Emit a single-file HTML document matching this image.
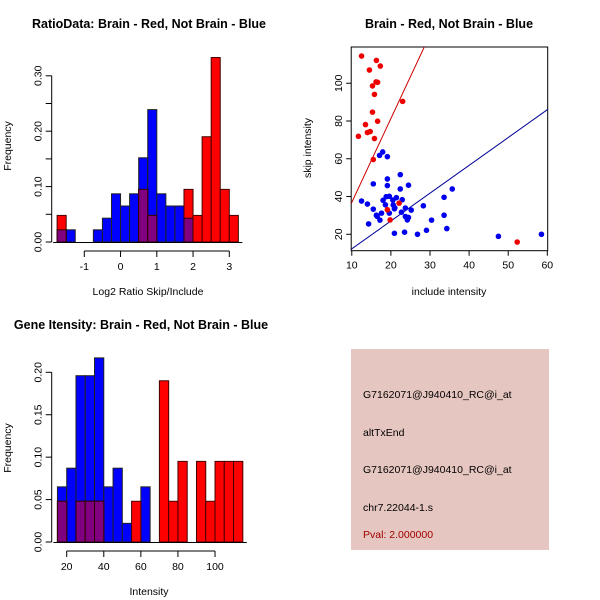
<!DOCTYPE html>
<html><head><meta charset="utf-8"><style>body{margin:0;background:#fff}svg{display:block;font-family:"Liberation Sans",sans-serif}</style></head>
<body>
<svg id="c" width="600" height="600" viewBox="0 0 600 600">
<rect x="0" y="0" width="600" height="600" fill="#fff"/>
<g>
<text x="149" y="28" font-size="12.5" font-weight="bold" text-anchor="middle">RatioData: Brain - Red, Not Brain - Blue</text>
<text x="148" y="295" font-size="10.5" text-anchor="middle">Log2 Ratio Skip/Include</text>
<text transform="translate(11,146) rotate(-90)" font-size="10.5" text-anchor="middle">Frequency</text>
<g id="h1"></g></g>
<g>
<text x="449" y="28" font-size="12.5" font-weight="bold" text-anchor="middle">Brain - Red, Not Brain - Blue</text>
<text x="449" y="295" font-size="10.5" text-anchor="middle">include intensity</text>
<text transform="translate(311,148) rotate(-90)" font-size="10.5" text-anchor="middle">skip intensity</text>
<g id="sc"></g></g>
<g>
<text x="141" y="329" font-size="12.5" font-weight="bold" text-anchor="middle">Gene Itensity: Brain - Red, Not Brain - Blue</text>
<text x="149" y="595" font-size="10.5" text-anchor="middle">Intensity</text>
<text transform="translate(11,448) rotate(-90)" font-size="10.5" text-anchor="middle">Frequency</text>
<g id="h2"></g></g>
<g>
<rect x="351" y="349" width="198" height="201" fill="#e6c6c0"/>
<text x="363" y="398" font-size="10.5">G7162071@J940410_RC@i_at</text>
<text x="363" y="436" font-size="10.5">altTxEnd</text>
<text x="363" y="473" font-size="10.5">G7162071@J940410_RC@i_at</text>
<text x="363" y="511" font-size="10.5">chr7.22044-1.s</text>
<text x="363" y="538" font-size="10.5" fill="#a00000">Pval: 2.000000</text>
</g>
</svg>
<script>
// Histogram 1 data
const h1Start=-1.75, h1Width=0.25;
const h1Blue=[0.022,0.022,0,0,0.022,0.043,0.087,0.065,0.087,0.152,0.239,0.087,0.065,0.065,0.043,0,0,0,0,0];
const h1Red=[0.048,0,0,0,0,0,0,0,0,0.095,0.048,0,0,0,0.095,0.048,0.19,0.333,0.095,0.048];
const h1XTicks=[-1,0,1,2,3];
const h1YTicks=[0,0.05,0.1,0.15,0.2,0.25,0.3];
const h1YLabels=["0.00","","0.10","","0.20","","0.30"];
// Histogram 2 data
const h2Start=15, h2Width=5;
const h2Blue=[0.065,0.087,0.196,0.196,0.217,0.065,0.087,0.022,0,0.065,0,0,0,0,0,0,0,0,0,0];
const h2Red=[0.048,0,0.048,0.048,0.048,0,0,0,0.048,0,0,0.19,0.048,0.095,0,0.095,0.048,0.095,0.095,0.095];
const h2XTicks=[20,40,60,80,100];
const h2YTicks=[0,0.05,0.1,0.15,0.2];
const h2YLabels=["0.00","0.05","0.10","0.15","0.20"];
// Scatter data
const redX=[12.5,16.3,17.3,14.5,16.2,16.6,15.3,15.8,23.0,15.3,13.5,16.6,14.7,14.0,11.7,15.8,15.5,22.1,19.1,19.8,52.3];
const redY=[114.4,112.1,109.1,107,100.7,100.5,98.6,94.1,90.4,84.7,78.1,79.9,74.4,73.9,71.9,70.7,59.6,36.5,33,27.6,15.9];
const blueX=[12.5,14.0,14.3,15.5,15.5,16.3,17.2,17.6,17.1,17.9,19.1,19.1,19.1,18.8,19.6,18.6,19.6,20.5,20.6,20.9,21.4,20.9,22.4,22.4,22.9,22.7,23.7,23.7,24.2,24.5,24.5,25.2,23.5,26.8,28.3,29.1,30.4,33.6,33.6,34.3,35.7,47.5,58.5,16.5,18.0,21.0];
const blueY=[37.6,36,25.5,46.7,33.3,30.1,27.5,31.2,61.8,63.6,61.1,49.3,45.8,39.9,40.1,35.6,31.2,38.1,35.5,33.5,39.4,20.5,51.6,44,38.3,31.7,33.9,29.4,27.6,28.9,46,32.8,21.1,20,35.1,22.1,27.5,39.6,30.1,23,44,18.9,20,29.5,38,34];
const lineIntercepts=[-7.5,-2.45];
const lineSlopes=[4.44,1.474];
const lineColors=["#cc0000","#000099"];
const scXTicks=[10,20,30,40,50,60];
const scYTicks=[20,40,60,80,100];

const NS="http://www.w3.org/2000/svg";
function mk(p,t,a){const e=document.createElementNS(NS,t);for(const k in a)e.setAttribute(k,a[k]);p.appendChild(e);return e;}

function hist(g,start,w,blue,red,xt,yt,yl,sx,sy,axisY,axisX,tag){
  for(let i=0;i<blue.length;i++){
    const x0=sx(start+i*w),x1=sx(start+(i+1)*w);
    if(blue[i]>0){const r=mk(g,'rect',{x:x0,y:sy(blue[i]),width:x1-x0,height:sy(0)-sy(blue[i]),fill:'#0000ff',stroke:'#222','stroke-width':1});
      
      }
  }
  for(let i=0;i<red.length;i++){
    const x0=sx(start+i*w),x1=sx(start+(i+1)*w);
    if(red[i]>0){const r=mk(g,'rect',{x:x0,y:sy(red[i]),width:x1-x0,height:sy(0)-sy(red[i]),fill:'#ff0000',stroke:'#400','stroke-width':1});
      
      }
    const m=Math.min(red[i],blue[i]);
    if(m>0){const r=mk(g,'rect',{x:x0,y:sy(m),width:x1-x0,height:sy(0)-sy(m),fill:'#800080',stroke:'#300','stroke-width':1});
      
      }
  }
  const x0=sx(start),x1=sx(start+blue.length*w);
  const b=mk(g,'line',{x1:x0-4,x2:x1+4,y1:sy(0)+0.5,y2:sy(0)+0.5,stroke:'#000'});
  
  
  const xa=mk(g,'line',{x1:sx(xt[0]),x2:sx(xt[xt.length-1]),y1:axisY,y2:axisY,stroke:'#000'});
  
  
  xt.forEach(v=>{mk(g,'line',{x1:sx(v),x2:sx(v),y1:axisY,y2:axisY+6,stroke:'#000'});
    const t=mk(g,'text',{x:sx(v),y:axisY+19,'font-size':10.5,'text-anchor':'middle'});t.textContent=v;
    
    });
  const ya=mk(g,'line',{x1:axisX,x2:axisX,y1:sy(yt[0]),y2:sy(yt[yt.length-1]),stroke:'#000'});
  
  
  yt.forEach((v,i)=>{mk(g,'line',{x1:axisX-6,x2:axisX,y1:sy(v),y2:sy(v),stroke:'#000'});
    if(yl[i]){const t=mk(g,'text',{transform:`translate(${axisX-10},${sy(v)}) rotate(-90)`,'font-size':10.5,'text-anchor':'middle'});t.textContent=yl[i];
    
    }});
}
hist(document.getElementById('h1'),h1Start,h1Width,h1Blue,h1Red,h1XTicks,h1YTicks,h1YLabels,
  v=>84.3+(v+1)*36.25, v=>242-v*554, 251, 51.7,'ratio');
hist(document.getElementById('h2'),h2Start,h2Width,h2Blue,h2Red,h2XTicks,h2YTicks,h2YLabels,
  v=>66.7+(v-20)*1.854, v=>542-v*848.5, 551, 51.7,'intensity');

// scatter
const sc=document.getElementById('sc');
const L=351.2,R=547.7,T=47,B=250.7;
const xmin=9.85,xmax=60.1,ymin=11.3,ymax=119.2;
const sx=v=>L+(v-xmin)/(xmax-xmin)*(R-L), sy=v=>B-(v-ymin)/(ymax-ymin)*(B-T);
const clip=mk(sc,'clipPath',{id:'scclip'});mk(clip,'rect',{x:L,y:T,width:R-L,height:B-T});
const box=mk(sc,'rect',{x:L,y:T,width:R-L,height:B-T,fill:'none',stroke:'#000'});


const pg=mk(sc,'g',{'clip-path':'url(#scclip)'});
lineIntercepts.forEach((a,i)=>{const l=mk(pg,'line',{x1:sx(xmin),y1:sy(a+lineSlopes[i]*xmin),x2:sx(xmax),y2:sy(a+lineSlopes[i]*xmax),stroke:lineColors[i],'stroke-width':1});
  
  });
blueX.forEach((x,i)=>{const c=mk(pg,'circle',{cx:sx(x),cy:sy(blueY[i]),r:2.8,fill:'#0000ee'});
  
  });
redX.forEach((x,i)=>{const c=mk(pg,'circle',{cx:sx(x),cy:sy(redY[i]),r:2.8,fill:'#ee0000'});
  
  });
scXTicks.forEach(v=>{mk(sc,'line',{x1:sx(v),x2:sx(v),y1:B,y2:B+5,stroke:'#000'});
  const t=mk(sc,'text',{x:sx(v),y:B+18,'font-size':10.5,'text-anchor':'middle'});t.textContent=v;
  
  });
scYTicks.forEach(v=>{mk(sc,'line',{x1:L-5,x2:L,y1:sy(v),y2:sy(v),stroke:'#000'});
  const t=mk(sc,'text',{transform:`translate(${L-9},${sy(v)}) rotate(-90)`,'font-size':10.5,'text-anchor':'middle'});t.textContent=v;
  
  });
</script>
</body></html>
